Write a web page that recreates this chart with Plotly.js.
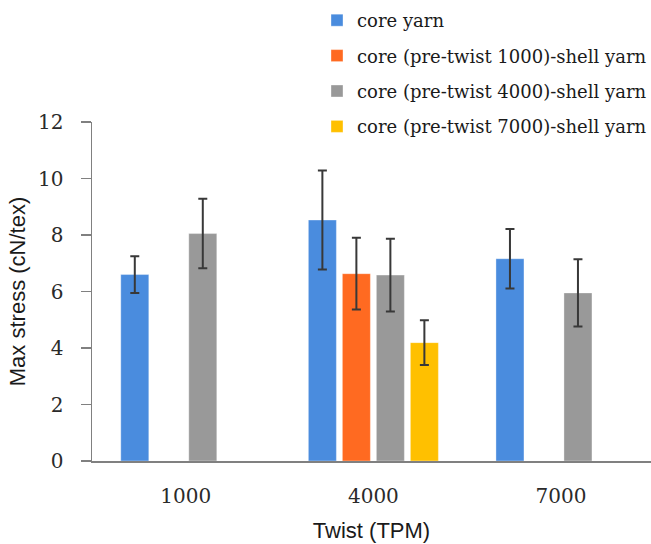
<!DOCTYPE html>
<html>
<head>
<meta charset="utf-8">
<script src="https://cdn.plot.ly/plotly-3.0.1.min.js"></script>
<style>html,body{margin:0;padding:0;background:#fff;}#chart{width:651px;height:544px;}</style>
</head>
<body>
<div id="chart"></div>
<script>
var categories = ['1000', '4000', '7000'];
var seriesNames = ['core yarn', 'core (pre-twist 1000)-shell yarn', 'core (pre-twist 4000)-shell yarn', 'core (pre-twist 7000)-shell yarn'];
var coreYarnX = ['1000', '4000', '7000'];
var coreYarn = [6.6, 8.53, 7.16];
var coreYarnErr = [0.65, 1.75, 1.05];
var pre1000X = ['4000'];
var pre1000 = [6.63];
var pre1000Err = [1.27];
var pre4000X = ['1000', '4000', '7000'];
var pre4000 = [8.05, 6.58, 5.95];
var pre4000Err = [1.23, 1.29, 1.19];
var pre7000X = ['4000'];
var pre7000 = [4.19];
var pre7000Err = [0.79];
var yTicks = [0, 2, 4, 6, 8, 10, 12];

var colors = ['#4a8cde', '#ff6a21', '#999999', '#ffc000'];
var xs = [coreYarnX, pre1000X, pre4000X, pre7000X];
var values = [coreYarn, pre1000, pre4000, pre7000];
var errs = [coreYarnErr, pre1000Err, pre4000Err, pre7000Err];

var traces = values.map(function (v, i) {
  return {
    type: 'bar',
    name: seriesNames[i],
    x: xs[i],
    y: v,
    legendgroup: 'g' + i,
    marker: {color: colors[i], line: {width: 1, color: 'rgba(255,255,255,0.35)'}},
    error_y: {type: 'data', array: errs[i], visible: true, color: '#383838', thickness: 2, width: 4.5}
  };
});

var layout = {
  width: 651,
  height: 544,
  margin: {l: 92, r: 0, t: 122, b: 83, autoexpand: false},
  paper_bgcolor: '#ffffff',
  plot_bgcolor: '#ffffff',
  barmode: 'group',
  bargap: 0.275,
  bargroupgap: 0.176,
  showlegend: true,
  legend: {
    x: 0.4025, y: 1.354, xanchor: 'left', yanchor: 'top',
    font: {family: 'DejaVu Serif', size: 18, color: '#1a1a1a'},
    tracegroupgap: 9,
    bgcolor: 'rgba(0,0,0,0)'
  },
  xaxis: {
    type: 'category',
    categoryorder: 'array',
    categoryarray: categories,
    range: [-0.5, 2.48],
    automargin: false,
    showline: true, linecolor: '#808080', linewidth: 2,
    ticks: 'outside', ticklen: 16, tickcolor: 'rgba(0,0,0,0)',
    showgrid: false, zeroline: false,
    tickfont: {family: 'DejaVu Serif', size: 20, color: '#2a2a2a'},
    title: {text: 'Twist (TPM)', font: {family: 'Liberation Sans', size: 22, color: '#1a1a1a'}}
  },
  yaxis: {
    range: [0, 12],
    tickvals: yTicks,
    automargin: false,
    showline: true, linecolor: '#808080', linewidth: 1.5,
    ticks: 'outside', ticklen: 10, tickwidth: 1.5, tickcolor: '#808080',
    ticklabelstandoff: 13,
    showgrid: false, zeroline: false,
    tickfont: {family: 'DejaVu Serif', size: 20, color: '#2a2a2a'},
    title: {text: 'Max stress (cN/tex)', font: {family: 'Liberation Sans', size: 22, color: '#1a1a1a'}, standoff: 6}
  }
};

Plotly.newPlot('chart', traces, layout, {displayModeBar: false, staticPlot: true});
</script>
</body>
</html>
